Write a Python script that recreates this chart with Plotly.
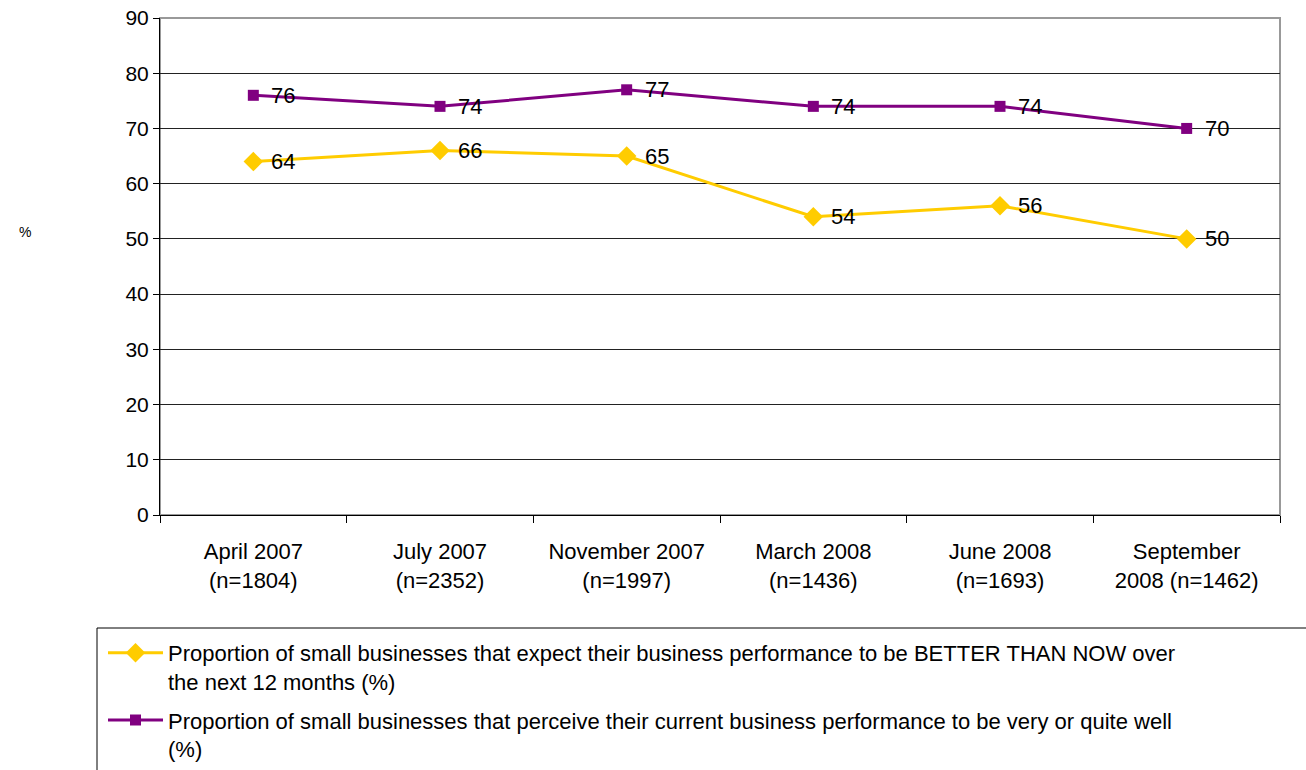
import plotly.graph_objects as go

# Survey waves (x categories)
categories = [
    "April 2007<br>(n=1804)",
    "July 2007<br>(n=2352)",
    "November 2007<br>(n=1997)",
    "March 2008<br>(n=1436)",
    "June 2008<br>(n=1693)",
    "September<br>2008 (n=1462)",
]

# Series values (%)
better_than_now = [64, 66, 65, 54, 56, 50]
doing_well = [76, 74, 77, 74, 74, 70]

better_name = ("Proportion of small businesses that expect their business performance to be BETTER THAN NOW over"
               "<br>the next 12 months (%)")
well_name = ("Proportion of small businesses that perceive their current business performance to be very or quite well"
             "<br>(%)")

y_ticks = [0, 10, 20, 30, 40, 50, 60, 70, 80, 90]

FONT = "Liberation Sans, Arial, sans-serif"
YELLOW = "#FFCC00"
PURPLE = "#800080"

fig = go.Figure()

fig.add_trace(go.Scatter(
    x=categories, y=better_than_now, name=better_name, legendgroup="better",
    mode="lines+markers",
    line=dict(color=YELLOW, width=3),
    marker=dict(symbol="diamond", size=15, color=YELLOW),
))

fig.add_trace(go.Scatter(
    x=categories, y=doing_well, name=well_name, legendgroup="well",
    mode="lines+markers",
    line=dict(color=PURPLE, width=3),
    marker=dict(symbol="square", size=11, color=PURPLE),
))

# Value labels placed to the right of each point
for series in (better_than_now, doing_well):
    for cat, val in zip(categories, series):
        fig.add_annotation(x=cat, y=val, text=str(val), showarrow=False,
                           xanchor="left", yanchor="middle", xshift=16,
                           font=dict(family=FONT, size=22, color="black"))

# Plot-area frame (grey top/right edges)
fig.add_shape(type="rect", xref="paper", yref="paper", x0=0, x1=1, y0=0, y1=1,
              line=dict(color="#999999", width=2), layer="below")

# Legend frame
fig.add_shape(type="rect", xref="paper", yref="paper",
              x0=(97 - 160) / 1120, x1=(1312 - 160) / 1120,
              y0=(515 - 628) / 497, y1=(515 - 780) / 497,
              line=dict(color="black", width=1))

fig.add_annotation(text="%", xref="paper", yref="paper",
                   x=(17 - 160) / 1120, y=(515 - 232) / 497,
                   showarrow=False, font=dict(family=FONT, size=14, color="black"))

fig.update_layout(
    width=1306, height=770,
    margin=dict(l=160, r=26, t=18, b=255, autoexpand=False),
    paper_bgcolor="white", plot_bgcolor="white",
    font=dict(family=FONT, size=20, color="black"),
    showlegend=True,
    legend=dict(
        x=(103 - 160) / 1120, y=(515 - 632) / 497,
        xanchor="left", yanchor="top", valign="top",
        font=dict(family=FONT, size=22, color="black"),
        itemwidth=55, tracegroupgap=7,
        bgcolor="rgba(0,0,0,0)",
    ),
    xaxis=dict(
        range=[-0.5, 5.5], automargin=False,
        showline=True, linecolor="black", linewidth=1,
        ticks="outside", ticklen=7, tickcolor="black",
        tickson="boundaries", showgrid=False,
        ticklabelstandoff=17,
        tickfont=dict(family=FONT, size=22, color="black"),
    ),
    yaxis=dict(
        range=[0, 90], tickvals=y_ticks, automargin=False,
        showline=True, linecolor="black", linewidth=1,
        ticks="outside", ticklen=6, tickcolor="black",
        showgrid=True, gridcolor="#222222", gridwidth=1,
        zeroline=False,
        tickfont=dict(family=FONT, size=21, color="black"),
    ),
)

fig.write_html("out.html")
